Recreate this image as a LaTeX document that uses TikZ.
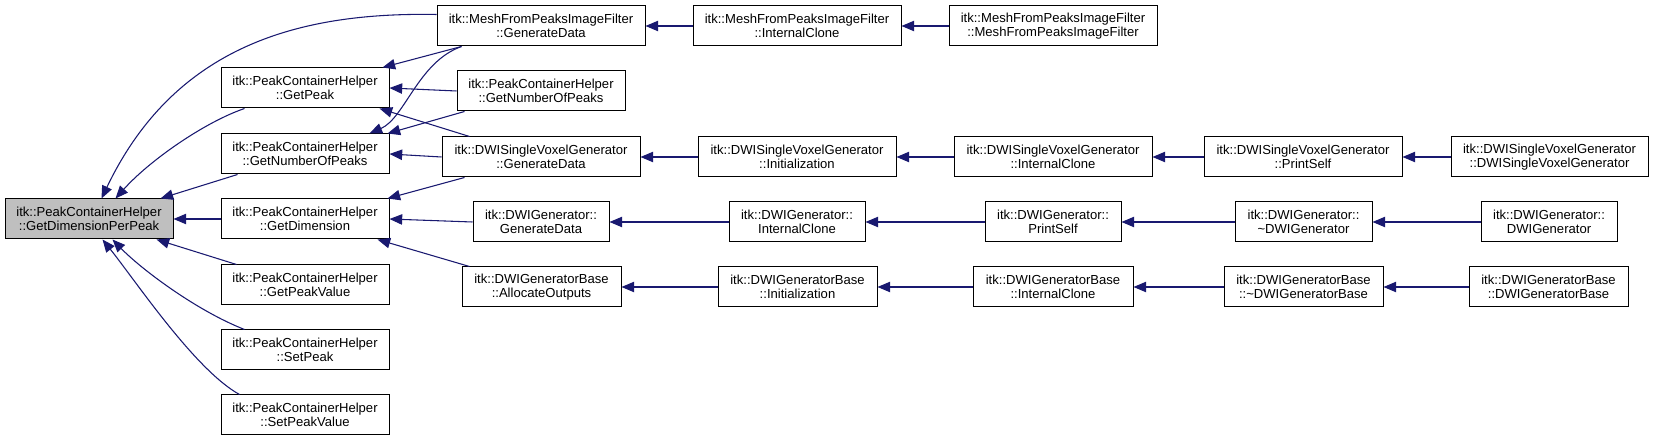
\documentclass[tikz,border=0pt]{standalone}
\usepackage{fontspec}
\setmainfont{Liberation Sans}
\usetikzlibrary{arrows.meta,calc}
\definecolor{edgeblue}{HTML}{191970}
\definecolor{rootgray}{HTML}{BFBFBF}
\newcommand{\bx}[7][]{\node[box, #1, minimum width={0.75*(#5-#3)}, minimum height={0.75*(#6-#4)}] (#2) at ({(#3+#5)/2},{(#4+#6)/2}) {#7};}
\begin{document}
\begin{tikzpicture}[x=0.75pt,y=-0.75pt,
  box/.style={draw=black, line width=0.75pt, fill=white, inner sep=0pt, align=center,
    font=\fontsize{9.8pt}{10.8pt}\selectfont},
  rootbox/.style={fill=rootgray},
  edge/.style={draw=edgeblue, line width=0.8pt, {Triangle[length=9.5pt,width=7.8pt]}-}]
\useasboundingbox (0,0) rectangle (1653,441);
% column 0
\bx[rootbox]{root}{5}{199}{173}{239}{itk::PeakContainerHelper\\::GetDimensionPerPeak}
% column 1
\bx{gp}{221}{68}{389}{108}{itk::PeakContainerHelper\\::GetPeak}
\bx{gnp}{221}{134}{389}{174}{itk::PeakContainerHelper\\::GetNumberOfPeaks}
\bx{gd}{221}{199}{389}{239}{itk::PeakContainerHelper\\::GetDimension}
\bx{gpv}{221}{265}{389}{305}{itk::PeakContainerHelper\\::GetPeakValue}
\bx{sp}{221}{330}{389}{370}{itk::PeakContainerHelper\\::SetPeak}
\bx{spv}{221}{395}{389}{435}{itk::PeakContainerHelper\\::SetPeakValue}
% column 2
\bx{mgd}{437}{6}{645}{46}{itk::MeshFromPeaksImageFilter\\::GenerateData}
\bx{gnpb}{457}{71}{625}{111}{itk::PeakContainerHelper\\::GetNumberOfPeaks}
\bx{sgd}{442}{137}{640}{177}{itk::DWISingleVoxelGenerator\\::GenerateData}
\bx{ggd}{473}{202}{609}{242}{itk::DWIGenerator::\\GenerateData}
\bx{bao}{462}{267}{621}{307}{itk::DWIGeneratorBase\\::AllocateOutputs}
% column 3
\bx{mic}{693}{6}{901}{46}{itk::MeshFromPeaksImageFilter\\::InternalClone}
\bx{sin}{698}{137}{896}{177}{itk::DWISingleVoxelGenerator\\::Initialization}
\bx{gic}{729}{202}{865}{242}{itk::DWIGenerator::\\InternalClone}
\bx{bin}{718}{267}{877}{307}{itk::DWIGeneratorBase\\::Initialization}
% column 4
\bx{mct}{949}{6}{1157}{46}{itk::MeshFromPeaksImageFilter\\::MeshFromPeaksImageFilter}
\bx{sic}{954}{137}{1152}{177}{itk::DWISingleVoxelGenerator\\::InternalClone}
\bx{gps}{985}{202}{1121}{242}{itk::DWIGenerator::\\PrintSelf}
\bx{bic}{973}{267}{1133}{307}{itk::DWIGeneratorBase\\::InternalClone}
% column 5
\bx{sps}{1204}{137}{1402}{177}{itk::DWISingleVoxelGenerator\\::PrintSelf}
\bx{gdt}{1235}{202}{1372}{242}{itk::DWIGenerator::\\\textasciitilde DWIGenerator}
\bx{bdt}{1224}{267}{1383}{307}{itk::DWIGeneratorBase\\::\textasciitilde DWIGeneratorBase}
% column 6
\bx{sct}{1451}{137}{1648}{177}{itk::DWISingleVoxelGenerator\\::DWISingleVoxelGenerator}
\bx{gct}{1481}{202}{1617}{242}{itk::DWIGenerator::\\DWIGenerator}
\bx{bct}{1469}{267}{1628}{307}{itk::DWIGeneratorBase\\::DWIGeneratorBase}

% edges into root
\draw[edge] ($(root.north west)+(97,0)$) .. controls (175,45) and (300,12) .. ($(mgd.north west)+(0,9)$);
\draw[edge] ($(root.north west)+(111,0)$) .. controls (150,160) and (205,122) .. ($(gp.south west)+(24,0)$);
\draw[edge] ($(root.north west)+(156,0)$) -- ($(gnp.south west)+(17,0)$);
\draw[edge] (root.east) -- (gd.west);
\draw[edge] ($(root.south west)+(152,0)$) -- ($(gpv.north west)+(16,0)$);
\draw[edge] ($(root.south west)+(108,0)$) .. controls (140,268) and (195,310) .. ($(sp.north west)+(24,0)$);
\draw[edge] ($(root.south west)+(98,0)$) .. controls (135,280) and (195,370) .. ($(spv.north west)+(19,0)$);
% edges into GetPeak
\draw[edge] ($(gp.north east)+(-7,0)$) -- ($(mgd.south west)+(25,0)$);
\draw[edge] (gp.east) -- (gnpb.west);
\draw[edge] ($(gp.south east)+(-10,0)$) -- ($(sgd.north west)+(28,0)$);
% edges into GetNumberOfPeaks
\draw[edge] ($(gnp.north east)+(-20,0)$) .. controls (405,118) and (418,62) .. ($(mgd.south west)+(25,0)$);
\draw[edge] ($(gnp.north east)+(-2,0)$) -- ($(gnpb.south west)+(8,0)$);
\draw[edge] (gnp.east) -- (sgd.west);
% edges into GetDimension
\draw[edge] ($(gd.north east)+(-2,0)$) -- ($(sgd.south west)+(23,0)$);
\draw[edge] (gd.east) -- (ggd.west);
\draw[edge] ($(gd.south east)+(-12,0)$) -- ($(bao.north west)+(8,0)$);
% chains
\draw[edge] (mgd.east) -- (mic.west);
\draw[edge] (mic.east) -- (mct.west);
\draw[edge] (sgd.east) -- (sin.west);
\draw[edge] (sin.east) -- (sic.west);
\draw[edge] (sic.east) -- (sps.west);
\draw[edge] (sps.east) -- (sct.west);
\draw[edge] (ggd.east) -- (gic.west);
\draw[edge] (gic.east) -- (gps.west);
\draw[edge] (gps.east) -- (gdt.west);
\draw[edge] (gdt.east) -- (gct.west);
\draw[edge] (bao.east) -- (bin.west);
\draw[edge] (bin.east) -- (bic.west);
\draw[edge] (bic.east) -- (bdt.west);
\draw[edge] (bdt.east) -- (bct.west);
\end{tikzpicture}
\end{document}
